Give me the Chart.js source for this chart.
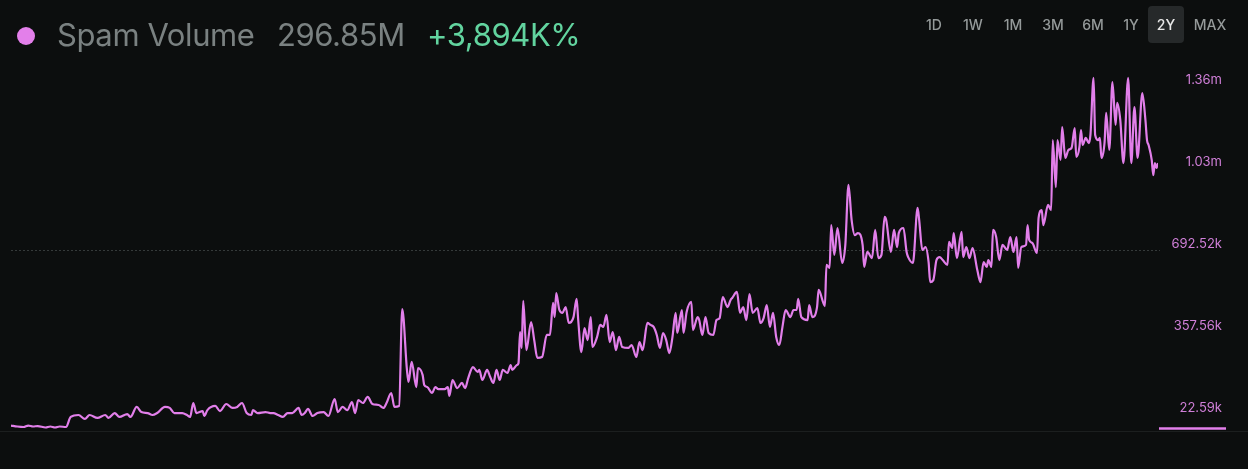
<!DOCTYPE html>
<html>
<head>
<meta charset="utf-8">
<script src="https://cdn.jsdelivr.net/npm/chart.js@4"></script>
<style>
	html, body {
		margin: 0;
		padding: 0;
		background: #0c0e0e;
		width: 1248px;
		height: 469px;
		overflow: hidden;
		font-family: Inter, "Noto Sans", sans-serif;
	}
	#myChart {
		position: absolute;
		left: 0;
		top: 0;
	}
	.head {
		position: absolute;
		top: 19px;
		font-size: 31px;
		line-height: 1;
		white-space: nowrap;
		color: #7a8181;
		letter-spacing: -0.4px;
	}
	.dot {
		position: absolute;
		left: 17px;
		top: 27px;
		width: 18px;
		height: 18px;
		border-radius: 50%;
		background: #e37fea;
	}
	.btn {
		position: absolute;
		top: 6px;
		height: 37px;
		line-height: 37px;
		width: 40px;
		text-align: center;
		font-size: 14px;
		font-weight: 500;
		color: #959a9a;
	}
	.btn.active {
		width: 36px;
		background: #26292a;
		border-radius: 4px;
		color: #e8e8e8;
	}
</style>
</head>
<body>
<canvas id="myChart" width="1248" height="469"></canvas>
<span class="dot"></span>
<span class="head" style="left:57px">Spam Volume</span>
<span class="head" style="left:277px">296.85M</span>
<span class="head" style="left:427px;color:#62d49f">+3,894K%</span>
<div id="ranges"></div>
<script>
// day index from the start of the 2Y window
const days = [
	0, 4, 8, 11, 14, 17, 22, 25, 28, 31, 35,
	38, 43, 47, 50, 55, 60, 62, 66, 69, 74,
	76, 80, 83, 87, 90, 93, 98, 101, 104, 109,
	112, 114, 116, 118, 122, 123, 125, 130, 133, 137,
	141, 144, 147, 150, 153, 154, 157, 162, 165, 167,
	170, 173, 176, 179, 183, 185, 187, 189, 192, 195,
	199, 202, 206, 208, 211, 214, 217, 219, 221, 224,
	227, 230, 234, 237, 239, 242, 244, 247,
	249, 252, 253, 255, 258, 259, 262, 263, 265, 268,
	270, 272, 276, 278, 279, 281, 284, 287, 289, 291,
	294, 297, 298, 300, 303, 305, 307, 309, 311, 313,
	316, 318, 319, 322, 323, 324, 325, 326, 328, 331,
	333, 335, 338, 341, 343, 345, 346, 347, 349, 351,
	353, 355, 358, 360, 361, 363, 365, 367, 369, 370,
	373, 375, 377, 379, 381, 383, 385, 387, 389, 393,
	395, 398, 400, 402, 405, 407, 409, 411, 413, 415,
	417, 419, 421, 423, 424, 427, 428, 430, 433, 434,
	437, 438, 440, 442, 444, 447, 449, 451, 453, 456,
	458, 459, 462, 464, 466, 468, 470, 472, 475, 477,
	479, 481, 483, 485, 487, 489, 491, 493, 496, 498,
	500, 501, 503, 507, 508, 510, 513, 514, 517, 518,
	519, 521, 522, 524, 526, 529, 531, 533, 535, 537,
	539, 542, 543, 545, 548, 550, 552, 554, 556, 557,
	560, 562, 564, 565, 568, 570, 571, 574, 577, 578,
	580, 582, 584, 585, 587, 589, 591, 593, 596, 597,
	599, 600, 602, 605, 606, 608, 610, 612, 615, 617,
	619, 621, 622, 624, 625, 627, 629, 631, 634, 636,
	638, 640, 641, 643, 646, 647, 648, 650, 653, 654,
	656, 657, 660, 662, 663, 665, 666, 668, 669, 671,
	673, 675, 677, 678, 680, 681, 682, 684, 686, 687,
	689, 690, 692, 693, 694, 696, 697, 699, 701, 703,
	704, 706, 708, 711, 713, 715, 717, 720, 722, 723,
	724, 726, 727, 728, 729, 730,
];

// spam volume, thousands
const volumeK = [
	-49, -53, -55, -49, -53, -51, -57, -53, -57, -53, -55,
	-14, -6, -22, -6, -18, -6, -18, 2, -14, -2,
	-14, 27, 6, 2, -6, 2, 27, 23, 2, 2,
	-6, -14, 43, 2, 10, -10, 14, 31, 10, 39,
	23, 27, 43, 2, -6, 14, 2, 6, 2, 2,
	-6, -14, 2, 2, 23, -6, 2, 19, -10, 2,
	6, -10, 59, 6, 27, 14, 47, 2, 55, 43,
	68, 39, 35, 23, 43, 84, 27, 31,
	427, 178, 129, 211, 108, 186, 157, 117, 108, 84,
	108, 100, 100, 108, 72, 137, 104, 125, 104, 145,
	190, 170, 178, 137, 178, 149, 125, 178, 137, 178,
	166, 198, 178, 198, 206, 333, 268, 460, 259, 374,
	300, 227, 231, 321, 321, 452, 394, 492, 423, 411,
	435, 370, 394, 468, 382, 251, 349, 300, 394, 272,
	313, 362, 354, 403, 292, 333, 259, 313, 272, 268,
	280, 231, 292, 259, 370, 362, 354, 321, 268, 329,
	300, 247, 313, 411, 329, 423, 329, 415, 456, 341,
	394, 382, 321, 394, 329, 321, 382, 390, 476, 435,
	464, 472, 497, 411, 435, 382, 488, 411, 431, 370,
	390, 443, 354, 411, 313, 280, 354, 423, 394, 423,
	423, 468, 394, 382, 443, 394, 435, 505, 452, 439,
	607, 595, 770, 648, 758, 615, 689, 934, 791, 729,
	737, 689, 599, 660, 635, 750, 635, 648, 803, 791,
	660, 750, 680, 737, 758, 660, 639, 615, 840, 791,
	668, 680, 619, 537, 545, 627, 639, 627, 607, 701,
	676, 737, 635, 742, 639, 680, 635, 676, 586, 537,
	619, 599, 627, 599, 750, 721, 627, 689, 668, 721,
	660, 721, 595, 680, 689, 770, 709, 697, 656, 799,
	831, 770, 852, 831, 1117, 925, 1117, 1036, 1170, 1044,
	1077, 1085, 1166, 1048, 1089, 1158, 1097, 1126, 1105, 1138,
	1371, 1138, 1117, 1126, 1044, 1109, 1228, 1077, 1354, 1179,
	1269, 1199, 1023, 1371, 1023, 1252, 1044, 1309, 1199, 1117,
	1097, 1036, 974, 1023, 1003, 1023,
];

const tickValues = [22.59, 357.56, 692.52, 1027.48, 1362.44];
const tickLabels = ["22.59k", "357.56k", "692.52k", "1.03m", "1.36m"];
const refLevel = 668;
const ranges = ["1D", "1W", "1M", "3M", "6M", "1Y", "2Y", "MAX"];
const rangeCenters = [934, 973, 1013, 1053, 1093, 1131, 1166, 1210];
const activeRange = "2Y";

const lineColor = "#e27fea";
const labelColor = "#d07fd8";

document.addEventListener("DOMContentLoaded", function () {
	// range buttons in the top right
	const rangeBox = document.getElementById("ranges");
	ranges.forEach((r, i) => {
		const el = document.createElement("span");
		el.className = r === activeRange ? "btn active" : "btn";
		const w = r === activeRange ? 36 : 40;
		el.style.left = rangeCenters[i] - w / 2 + "px";
		el.textContent = r;
		rangeBox.appendChild(el);
	});

	// dotted level, bottom rule and the small pink marker on the axis
	const decorations = {
		id: "decorations",
		beforeDatasetsDraw(chart) {
			const { ctx, chartArea, scales } = chart;
			const y = Math.round(scales.y.getPixelForValue(refLevel)) + 0.5;
			ctx.save();
			ctx.strokeStyle = "#353a3a";
			ctx.lineWidth = 1;
			ctx.setLineDash([2, 2]);
			ctx.beginPath();
			ctx.moveTo(chartArea.left, y);
			ctx.lineTo(chartArea.right + 2, y);
			ctx.stroke();

			ctx.setLineDash([]);
			ctx.strokeStyle = "#1c1f1f";
			ctx.beginPath();
			ctx.moveTo(0, chartArea.bottom + 0.5);
			ctx.lineTo(chart.width, chartArea.bottom + 0.5);
			ctx.stroke();

			ctx.strokeStyle = lineColor;
			ctx.lineWidth = 2.5;
			ctx.beginPath();
			ctx.moveTo(chartArea.right + 1, chartArea.bottom - 2.5);
			ctx.lineTo(chartArea.right + 68, chartArea.bottom - 2.5);
			ctx.stroke();
			ctx.restore();
		},
	};

	const ctx = document.getElementById("myChart");

	new Chart(ctx, {
		type: "line",
		data: {
			datasets: [
				{
					label: "Spam Volume",
					data: days.map((d, i) => ({ x: d, y: volumeK[i] })),
					borderColor: lineColor,
					borderWidth: 2.2,
					pointRadius: 0,
					cubicInterpolationMode: "monotone",
					fill: false,
				},
			],
		},
		options: {
			responsive: false,
			animation: false,
			events: [],
			layout: {
				padding: { top: 62, bottom: 38, left: 11, right: 26 },
			},
			plugins: {
				legend: { display: false },
				tooltip: { enabled: false },
			},
			scales: {
				x: {
					type: "linear",
					min: 0,
					max: 730,
					display: false,
				},
				y: {
					position: "right",
					min: -71.3,
					max: 1436,
					grid: { display: false, drawTicks: false },
					border: { display: false },
					afterBuildTicks: (scale) => {
						scale.ticks = tickValues.map((v) => ({ value: v }));
					},
					afterFit: (scale) => {
						scale.width = 64;
					},
					ticks: {
						color: labelColor,
						padding: 14,
						crossAlign: "far",
						font: { family: "Inter", size: 13 },
						callback: (v) => tickLabels[tickValues.indexOf(v)],
					},
				},
			},
		},
		plugins: [decorations],
	});
});
</script>
</body>
</html>
